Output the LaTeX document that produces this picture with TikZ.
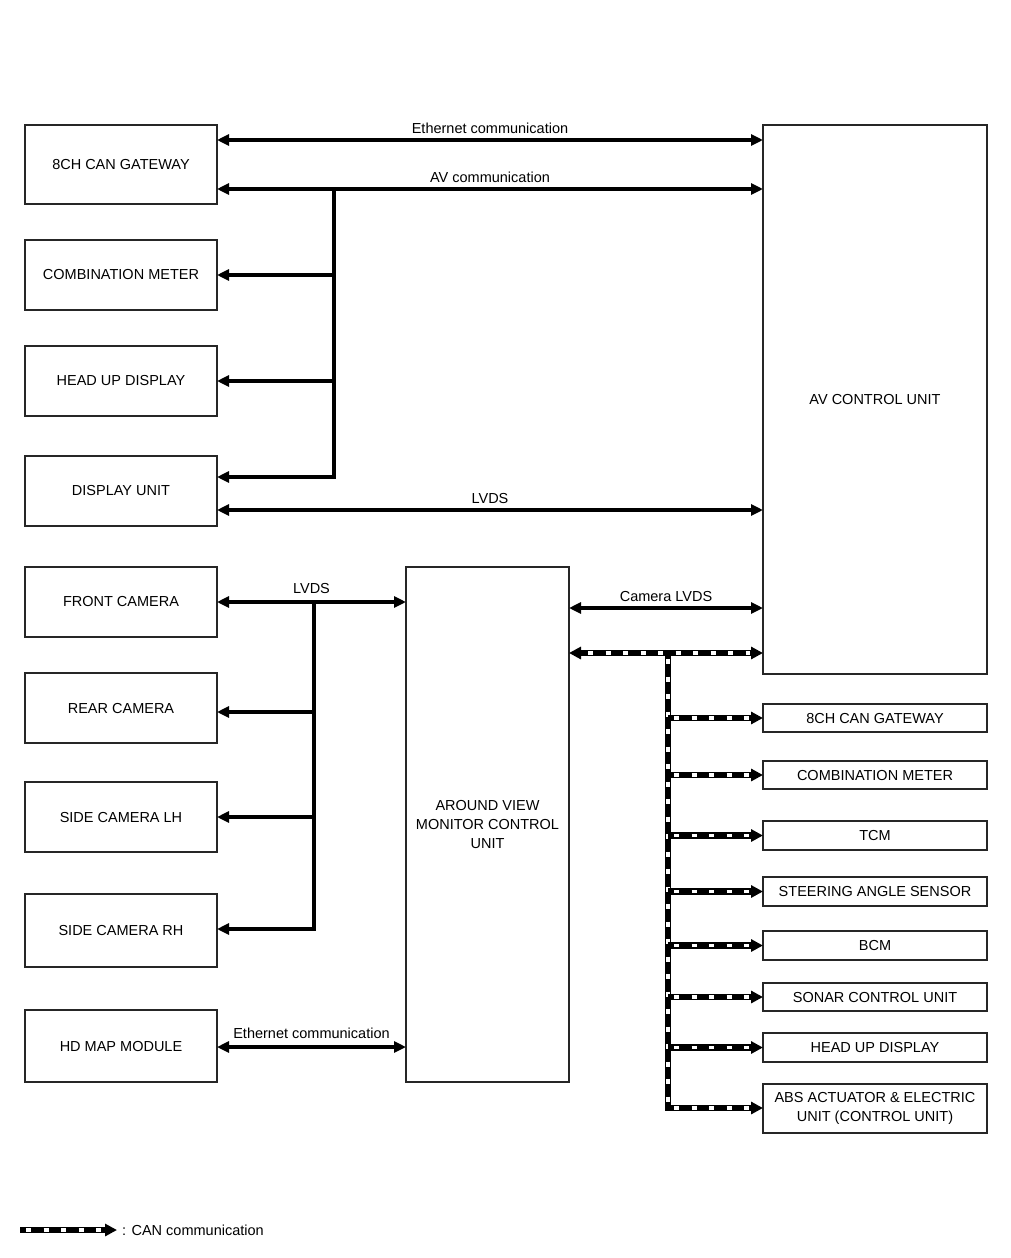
\documentclass[tikz,border=0pt]{standalone}
\usepackage{fontspec}
\setmainfont{Liberation Sans}
\usetikzlibrary{arrows.meta}
\begin{document}
\begin{tikzpicture}[x=1pt,y=-1pt,
  font=\fontsize{14.5}{19}\selectfont,
  box/.style={draw=black!85, line width=1.1pt, inner sep=0pt, outer sep=0pt, align=center},
  lbox/.style={box, minimum width=192pt},
  rbox/.style={box, minimum width=224pt},
  tip/.tip={Triangle[length=12pt,width=11pt]},
  arr/.style={line width=4pt, -{tip}},
  darr/.style={line width=4pt, {tip}-{tip}},
  bus/.style={line width=4pt},
  lbl/.style={anchor=base, yshift=7pt, inner sep=0pt},
  canarr/.style={line width=6.5pt, -{Triangle[length=12pt,width=12pt]},
    postaction={draw=white, line width=3.4pt, arrows=-, dash pattern=on 5pt off 12.5pt, dash phase=-6pt, shorten >=13pt}},
  candarr/.style={line width=6.5pt, {Triangle[length=12pt,width=12pt]}-{Triangle[length=12pt,width=12pt]},
    postaction={draw=white, line width=3.4pt, arrows=-, dash pattern=on 5pt off 12.5pt, dash phase=-6pt, shorten >=13pt, shorten <=13pt}},
]
\useasboundingbox (0,0) rectangle (1010,1258);

% left column
\node[lbox, minimum height=79pt] (gwL) at (121,164.5) {8CH CAN GATEWAY};
\node[lbox, minimum height=70pt] (cm) at (121,275) {COMBINATION METER};
\node[lbox, minimum height=70pt] (hud) at (121,381) {HEAD UP DISPLAY};
\node[lbox, minimum height=70pt] (du) at (121,491) {DISPLAY UNIT};
\node[lbox, minimum height=70pt] (fc) at (121,602) {FRONT CAMERA};
\node[lbox, minimum height=70pt] (rc) at (121,708) {REAR CAMERA};
\node[lbox, minimum height=70pt] (slh) at (121,817) {SIDE CAMERA LH};
\node[lbox, minimum height=73pt] (srh) at (121,930.5) {SIDE CAMERA RH};
\node[lbox, minimum height=72pt] (hd) at (121,1046) {HD MAP MODULE};

% big units
\node[box, minimum width=224pt, minimum height=549pt] (av) at (875,399.5) {AV CONTROL UNIT};
\node[box, minimum width=163pt, minimum height=515pt] (avm) at (487.5,824.5) {AROUND VIEW\\MONITOR CONTROL\\UNIT};

% right column
\node[rbox, minimum height=28pt] (gwR) at (875,718) {8CH CAN GATEWAY};
\node[rbox, minimum height=28pt] (cmR) at (875,775) {COMBINATION METER};
\node[rbox, minimum height=29pt] (tcm) at (875,835.5) {TCM};
\node[rbox, minimum height=29pt] (sas) at (875,891.5) {STEERING ANGLE SENSOR};
\node[rbox, minimum height=29pt] (bcm) at (875,945.5) {BCM};
\node[rbox, minimum height=28pt] (sonar) at (875,997) {SONAR CONTROL UNIT};
\node[rbox, minimum height=29pt] (hudR) at (875,1047.5) {HEAD UP DISPLAY};
\node[rbox, minimum height=49pt] (abs) at (875,1108.5) {ABS ACTUATOR \& ELECTRIC\\UNIT (CONTROL UNIT)};

% Ethernet / AV
\coordinate (yEth) at (0,140);
\draw[darr] (gwL.east |- yEth) -- (av.west |- yEth) node[lbl, midway] {Ethernet communication};
\coordinate (yAV) at (0,189);
\draw[darr] (gwL.east |- yAV) -- (av.west |- yAV) node[lbl, midway] {AV communication};
\coordinate (avj) at (334,189);
\coordinate (avb) at (334,477);
\draw[arr] (avj) -- (avb) -- (du.east |- avb);
\draw[arr] (avj |- cm) -- (cm.east);
\draw[arr] (avj |- hud) -- (hud.east);
\coordinate (yLV) at (0,510);
\draw[darr] (du.east |- yLV) -- (av.west |- yLV) node[lbl, midway] {LVDS};

% cameras
\coordinate (yFC) at (0,602);
\draw[darr] (fc.east |- yFC) -- (avm.west |- yFC) node[lbl, midway, yshift=2pt] {LVDS};
\coordinate (cj) at (314,602);
\coordinate (cb) at (314,929);
\draw[arr] (cj) -- (cb) -- (srh.east |- cb);
\coordinate (yRC) at (0,712);
\draw[arr] (cj |- yRC) -- (rc.east |- yRC);
\draw[arr] (cj |- slh) -- (slh.east);
\coordinate (yHD) at (0,1047);
\draw[darr] (hd.east |- yHD) -- (avm.west |- yHD) node[lbl, midway, yshift=2pt] {Ethernet communication};

% camera LVDS
\coordinate (yCL) at (0,608);
\draw[darr] (avm.east |- yCL) -- (av.west |- yCL) node[lbl, midway] {Camera LVDS};

% CAN
\coordinate (yCAN) at (0,653);
\coordinate (canj) at (668,653);
\draw[canarr] (canj) -- (668,1108) -- (abs.west |- 0,1108);
\draw[candarr] (avm.east |- yCAN) -- (av.west |- yCAN);
\draw[canarr] (canj |- gwR) -- (gwR.west);
\draw[canarr] (canj |- cmR) -- (cmR.west);
\draw[canarr] (canj |- tcm) -- (tcm.west);
\draw[canarr] (canj |- sas) -- (sas.west);
\draw[canarr] (canj |- bcm) -- (bcm.west);
\draw[canarr] (canj |- sonar) -- (sonar.west);
\draw[canarr] (canj |- hudR) -- (hudR.west);

% legend
\coordinate (l1) at (20,1230);
\coordinate (l2) at (117,1230);
\draw[canarr] (l1) -- (l2);
\node[anchor=west, inner sep=1pt] (legend) at (121,1230) {: CAN communication};
\end{tikzpicture}
\end{document}
